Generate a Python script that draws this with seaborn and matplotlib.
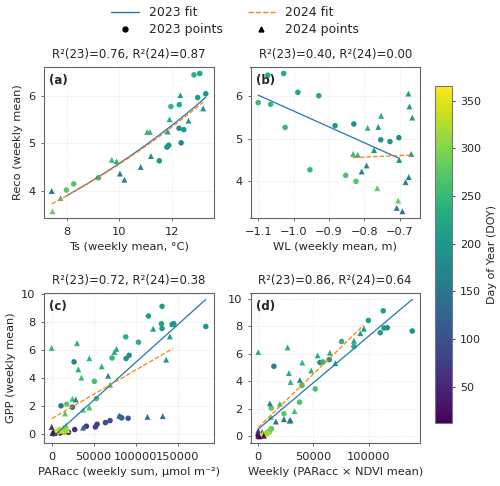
import numpy as np
import pandas as pd
import matplotlib
matplotlib.use("Agg")
import matplotlib.pyplot as plt
from matplotlib.lines import Line2D
from matplotlib.ticker import MultipleLocator
import seaborn as sns

# ---- panel (a): Reco vs Ts ----
ts_23 = [7.99, 8.27, 9.21, 11.53, 11.82, 11.89, 12.36, 12.28, 12.46, 11.97, 12.29, 12.85, 13.07, 12.99, 13.30]
reco_a_23 = [4.01, 4.14, 4.27, 4.63, 4.92, 4.96, 5.01, 5.32, 5.29, 5.78, 5.82, 6.45, 6.48, 5.97, 6.05]
doy_a_23 = [275, 270, 250, 200, 195, 195, 180, 190, 200, 245, 225, 240, 225, 210, 195]
ts_24 = [7.43, 7.46, 7.77, 9.72, 9.90, 10.03, 10.20, 10.82, 11.21, 11.07, 11.17, 11.85, 11.92, 12.33, 12.64, 13.20]
reco_a_24 = [3.99, 3.56, 3.84, 4.65, 4.62, 4.36, 4.23, 4.50, 4.73, 5.24, 5.24, 5.25, 5.51, 6.02, 5.48, 5.74]
doy_a_24 = [150, 285, 260, 250, 240, 165, 170, 180, 185, 245, 250, 215, 235, 215, 205, 200]

# ---- panel (b): Reco vs WL ----
wl_23 = [-1.100, -1.073, -1.065, -1.028, -1.024, -0.988, -0.929, -0.954, -0.883, -0.853, -0.830, -0.824, -0.754, -0.728, -0.703]
reco_b_23 = [5.84, 6.48, 5.80, 6.52, 5.26, 6.08, 6.00, 4.27, 5.30, 4.14, 5.34, 4.00, 4.97, 4.93, 5.02]
doy_b_23 = [250, 225, 245, 230, 250, 220, 225, 250, 205, 265, 195, 270, 190, 195, 180]
wl_24 = [-0.832, -0.819, -0.791, -0.761, -0.753, -0.773, -0.794, -0.808, -0.764, -0.705,
         -0.709, -0.693, -0.702, -0.684, -0.675, -0.668, -0.676, -0.673, -0.665]
reco_b_24 = [4.64, 4.62, 5.25, 5.27, 5.53, 4.73, 4.37, 4.23, 3.84, 3.55,
             3.38, 3.30, 4.50, 3.98, 4.10, 4.64, 6.05, 5.75, 5.49]
doy_b_24 = [250, 245, 240, 215, 235, 185, 180, 170, 280, 285,
            160, 150, 185, 165, 170, 200, 215, 205, 210]

# ---- panel (c): GPP vs PARacc ----
par_23 = [131300, 115100, 130500, 131300, 143200, 145200, 183300, 88100, 103200, 71800, 88500, 92100,
          26600, 50800, 53200, 11100, 17900, 24600,
          27400, 41300, 52000, 54000, 63900, 69400, 81300, 83300, 90900,
          2000, 5000, 8000, 12000, 15000, 18000, 4000, 10000, 20000]
gpp_c_23 = [9.10, 8.41, 7.86, 7.52, 7.81, 7.86, 7.66, 6.92, 6.54, 5.41, 5.37, 5.60,
            5.13, 3.74, 2.51, 1.99, 2.11, 1.89,
            0.29, 0.53, 0.48, 0.67, 0.79, 0.93, 1.20, 1.13, 1.10,
            0.05, 0.10, 0.12, 0.15, 0.08, 0.20, 0.02, 0.05, 0.10]
doy_c_23 = [210, 215, 220, 205, 200, 195, 195, 240, 235, 245, 190, 185,
            170, 260, 265, 150, 275, 140,
            60, 70, 75, 80, 85, 95, 110, 115, 110,
            330, 340, 320, 310, 300, 295, 20, 30, 45]
par_24 = [0, 30200, 44800, 59500, 74600, 77000, 31700, 35300, 67100, 69400, 120600, 140500, 136100, 144000,
          24600, 28600, 15900, 44800, 37300,
          37300, 113900, 132100, 80200, 0,
          8000, 14000, 17000, 19000, 6000, 3000,
          10000, 12000, 16000, 5000, 2000, 1000]
gpp_c_24 = [6.13, 6.47, 5.39, 4.81, 5.84, 6.06, 4.60, 4.00, 4.14, 3.50, 7.50, 6.95, 5.29, 7.83,
            2.49, 2.44, 1.44, 1.87, 1.70,
            0.43, 1.20, 1.25, 1.29, 0.48,
            0.30, 0.45, 0.60, 0.25, 0.15, 0.05,
            0.35, 0.20, 0.40, 0.25, 0.10, 0.05]
doy_c_24 = [245, 240, 245, 240, 230, 235, 235, 250, 190, 255, 215, 210, 200, 205,
            260, 175, 270, 265, 275,
            120, 145, 150, 140, 60,
            320, 300, 290, 330, 345, 15,
            330, 340, 310, 350, 25, 35]

# ---- panel (d): GPP vs PARacc x NDVI ----
pn_23 = [113200, 99700, 110500, 113900, 116900, 139500, 75500, 86700, 55900, 58600, 64300,
         14200, 51600, 39600, 37400, 11800, 23300,
         5000, 8000, 10000, 12000, 3000, 7000, 0, 2000]
gpp_d_23 = [9.13, 8.43, 7.54, 7.88, 7.90, 7.66, 6.90, 6.54, 5.37, 5.41, 5.58,
            5.10, 3.45, 3.71, 2.49, 2.06, 1.65,
            0.10, 0.20, 0.30, 0.55, 0.05, 0.15, 0.05, 0.10]
doy_d_23 = [210, 215, 205, 200, 195, 195, 240, 235, 190, 245, 185,
            170, 265, 260, 265, 275, 275,
            300, 290, 310, 280, 330, 320, 20, 30]
pn_24 = [0, 26600, 39900, 53800, 64900, 86700, 92400, 95700, 27800, 48000, 37700, 29300, 69800,
         10600, 19600, 11500, 32900, 16000, 23300, 28400, 29300,
         0, 3600, 0, 9000, 6000,
         4000, 7000, 10000, 2000, 5000, 1000]
gpp_d_24 = [6.13, 6.47, 5.37, 5.89, 6.08, 6.95, 7.50, 7.83, 4.60, 4.79, 4.10, 3.95, 5.32,
            2.40, 2.37, 1.41, 1.84, 1.08, 1.25, 1.15, 1.17,
            0.41, 0.31, 0.05, 0.30, 0.15,
            0.20, 0.35, 0.55, 0.10, 0.05, 0.00]
doy_d_24 = [245, 240, 245, 230, 235, 210, 215, 205, 235, 240, 190, 250, 200,
            175, 260, 270, 265, 150, 145, 140, 150,
            60, 70, 30, 320, 340,
            330, 310, 290, 350, 25, 15]

titles = ["R²(23)=0.76, R²(24)=0.87", "R²(23)=0.40, R²(24)=0.00",
          "R²(23)=0.72, R²(24)=0.38", "R²(23)=0.86, R²(24)=0.64"]
letters = ["(a)", "(b)", "(c)", "(d)"]
xlabels = ["Ts (weekly mean, °C)", "WL (weekly mean, m)",
           "PARacc (weekly sum, µmol m⁻²)", "Weekly (PARacc × NDVI mean)"]
ylabels = ["Reco (weekly mean)", "", "GPP (weekly mean)", ""]
xsteps = [2, 0.1, 50000, 50000]

panels = [
    (ts_23, reco_a_23, doy_a_23, ts_24, reco_a_24, doy_a_24, "exp"),
    (wl_23, reco_b_23, doy_b_23, wl_24, reco_b_24, doy_b_24, "lin"),
    (par_23, gpp_c_23, doy_c_23, par_24, gpp_c_24, doy_c_24, "lin"),
    (pn_23, gpp_d_23, doy_d_23, pn_24, gpp_d_24, doy_d_24, "lin"),
]

sns.set_style("ticks")
plt.rcParams['font.family'] = ['DejaVu Sans']
plt.rcParams['font.size'] = 8

doy_norm = (12, 366)
c23, c24 = "#1f77b4", "#ff7f0e"

fig = plt.figure(figsize=(5.0, 4.86), dpi=100)
boxes = [[0.088, 0.551, 0.339, 0.312], [0.501, 0.551, 0.339, 0.312],
         [0.088, 0.088, 0.339, 0.310], [0.501, 0.088, 0.339, 0.310]]


def fit_line(x, y, kind):
    x = np.asarray(x, float)
    y = np.asarray(y, float)
    xs = np.linspace(x.min(), x.max(), 100)
    if kind == "exp":
        b, a = np.polyfit(x, np.log(y), 1)
        return xs, np.exp(a) * np.exp(b * xs)
    k, m = np.polyfit(x, y, 1)
    return xs, k * xs + m


for i, (x23, y23, d23, x24, y24, d24, kind) in enumerate(panels):
    ax = fig.add_axes(boxes[i])
    df23 = pd.DataFrame({"x": x23, "y": y23, "doy": d23})
    df24 = pd.DataFrame({"x": x24, "y": y24, "doy": d24})
    sns.scatterplot(data=df23, x="x", y="y", hue="doy", palette="viridis", hue_norm=doy_norm,
                    marker="o", s=16, linewidth=0, legend=False, ax=ax)
    sns.scatterplot(data=df24, x="x", y="y", hue="doy", palette="viridis", hue_norm=doy_norm,
                    marker="^", s=18, linewidth=0, legend=False, ax=ax)
    xs, ys = fit_line(x23, y23, kind)
    ax.plot(xs, ys, color=c23, lw=0.9)
    xs, ys = fit_line(x24, y24, kind)
    ax.plot(xs, ys, color=c24, lw=0.9, ls="--")
    ax.xaxis.set_major_locator(MultipleLocator(xsteps[i]))
    ax.grid(True, ls=":", lw=0.6, alpha=0.6)
    ax.set_title(titles[i], fontsize=8.5, pad=6)
    ax.set_xlabel(xlabels[i], fontsize=8.2)
    ax.set_ylabel(ylabels[i], fontsize=8.2)
    ax.tick_params(labelsize=8.2, length=2.5, width=0.6, color="#555555")
    for sp in ax.spines.values():
        sp.set_color("#666666")
        sp.set_linewidth(0.8)
    ax.text(0.03, 0.95, letters[i], transform=ax.transAxes, fontsize=8.5,
            fontweight="bold", va="top", ha="left")

cax = fig.add_axes([0.870, 0.130, 0.033, 0.694])
sm = plt.cm.ScalarMappable(cmap="viridis", norm=plt.Normalize(*doy_norm))
cb = fig.colorbar(sm, cax=cax)
cb.set_label("Day of Year (DOY)", fontsize=8)
cb.set_ticks([50, 100, 150, 200, 250, 300, 350])
cb.ax.tick_params(labelsize=8, length=2.5, width=0.6)
cb.outline.set_edgecolor("#777777")

handles = [Line2D([0], [0], color=c23, lw=1),
           Line2D([0], [0], marker="o", color="black", ls="none", ms=3.5),
           Line2D([0], [0], color=c24, lw=1, ls="--"),
           Line2D([0], [0], marker="^", color="black", ls="none", ms=3.5)]
labels = ["2023 fit", "2023 points", "2024 fit", "2024 points"]
fig.legend(handles, labels, loc="upper center", bbox_to_anchor=(0.47, 1.01), ncol=2,
           frameon=False, fontsize=9, handlelength=2.2, columnspacing=2.0,
           labelspacing=0.3)

fig.savefig("out.png", dpi=100)
